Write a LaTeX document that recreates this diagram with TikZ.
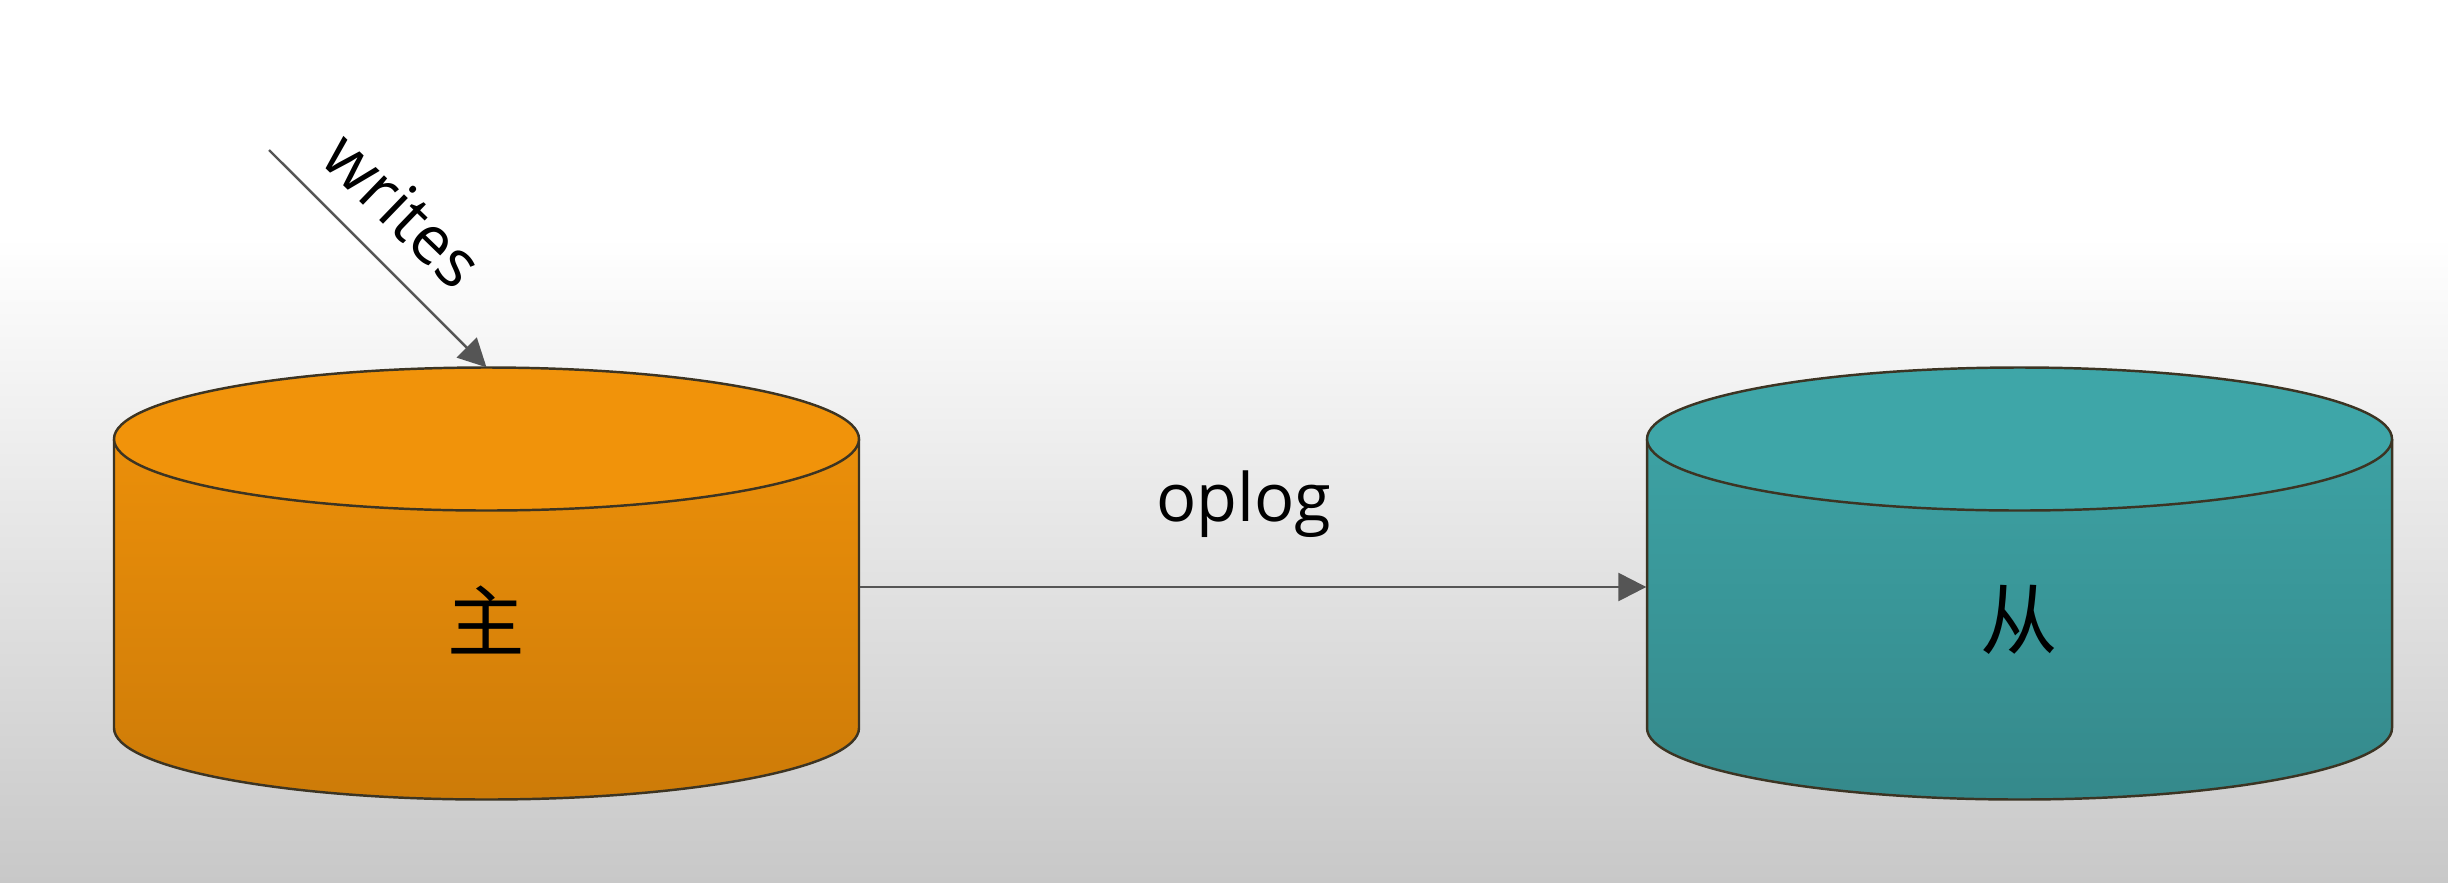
\documentclass[tikz,border=0pt]{standalone}
\usepackage{fontspec}
\usepackage{xcolor}
\usepackage{tikz}
\usetikzlibrary{arrows.meta}
\setmainfont{Open Sans}
\newfontfamily\cjk{Noto Sans CJK SC}
\definecolor{masterorange}{RGB}{241,147,10}
\definecolor{masterdark}{RGB}{205,123,8}
\definecolor{slaveteal}{RGB}{62,166,168}
\definecolor{slavedark}{RGB}{53,137,139}
\definecolor{arrowgray}{RGB}{85,85,85}
\definecolor{rimgray}{RGB}{60,52,35}
\definecolor{floorgray}{RGB}{200,200,200}

\begin{document}
\begin{tikzpicture}[
  rim/.style={draw=rimgray, line width=0.7pt},
  flow/.style={-{Triangle[length=2.8mm,width=2.8mm]}, draw=arrowgray, fill=arrowgray, line width=0.7pt},
  dbname/.style={font=\cjk\fontsize{22}{26}\selectfont, minimum width=7.45cm, minimum height=5.04cm, inner sep=0pt},
  tag/.style={font=\fontsize{19}{22}\selectfont, inner sep=0pt}
]
\useasboundingbox (0,0) rectangle (24.48,8.82);
% background
\fill[white] (0,6.45) rectangle (24.48,8.82);
\shade[top color=white, bottom color=floorgray] (0,0) rectangle (24.48,6.45);

% master cylinder
\shade[top color=masterorange, bottom color=masterdark] (1.14,4.43) -- (1.14,1.54)
  arc[start angle=180, end angle=360, x radius=3.725, y radius=0.715] -- (8.59,4.43)
  arc[start angle=0, end angle=180, x radius=3.725, y radius=0.715] -- cycle;
\draw[rim] (1.14,4.43) -- (1.14,1.54)
  arc[start angle=180, end angle=360, x radius=3.725, y radius=0.715] -- (8.59,4.43);
\filldraw[rim, fill=masterorange] (4.865,4.43) ellipse[x radius=3.725, y radius=0.715];

% slave cylinder
\shade[top color=slaveteal, bottom color=slavedark] (16.47,4.43) -- (16.47,1.54)
  arc[start angle=180, end angle=360, x radius=3.725, y radius=0.715] -- (23.92,4.43)
  arc[start angle=0, end angle=180, x radius=3.725, y radius=0.715] -- cycle;
\draw[rim] (16.47,4.43) -- (16.47,1.54)
  arc[start angle=180, end angle=360, x radius=3.725, y radius=0.715] -- (23.92,4.43);
\filldraw[rim, fill=slaveteal] (20.195,4.43) ellipse[x radius=3.725, y radius=0.715];

% labels
\node[dbname] (master) at (4.865,2.62) {主};
\node[dbname] (slave) at (20.195,2.62) {从};
\coordinate (client) at (2.69,7.32);

\draw[flow] (client) -- (master.north);
\draw[flow] ([yshift=3.3mm]master.east) -- ([yshift=3.3mm]slave.west);

\node[tag, rotate=-44] (writes) at (4.03,6.72) {writes};
\node[tag] (oplog) at (12.44,3.78) {oplog};
\end{tikzpicture}
\end{document}
